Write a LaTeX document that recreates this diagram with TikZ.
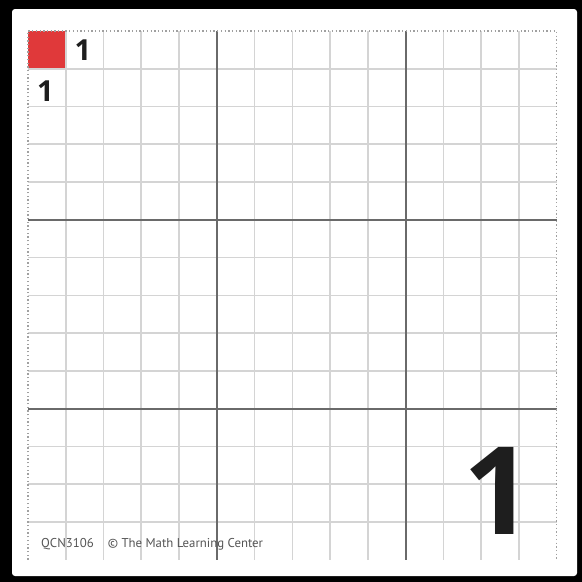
\documentclass[tikz,border=0pt]{standalone}
\usepackage{fontspec}
\setmainfont{Open Sans}
\setsansfont{Open Sans}
\newfontfamily\piefont{PT Sans}
\usetikzlibrary{positioning}
\definecolor{rojo}{HTML}{E0393A}
\definecolor{lineaclara}{HTML}{D4D4D4}
\definecolor{lineaosc}{HTML}{6A6A6A}
\definecolor{puntos}{HTML}{A0A0A0}
\definecolor{textogris}{HTML}{555555}
\definecolor{tinta}{HTML}{1E1E1E}
\def\celda{37.76}
\tikzset{
  every picture/.style={font=\sffamily},
  fina/.style={draw=lineaclara, line width=1.6pt},
  gruesa/.style={draw=lineaosc, line width=1.8pt},
  borde/.style={draw=puntos, line width=1.3pt, dash pattern=on 1.3pt off 2.4pt},
  etiq/.style={inner sep=0pt, text=tinta, font=\sffamily\bfseries\fontsize{29}{29}\selectfont},
  grande/.style={inner sep=0pt, text=tinta, font=\sffamily\bfseries\fontsize{122}{122}\selectfont},
  pie/.style={inner sep=0pt, text=textogris, font=\piefont\fontsize{12.8}{12.8}\selectfont},
}
\begin{document}
\begin{tikzpicture}[x=1pt, y=-1pt]
  % marco
  \fill[black] (0,0) rectangle (582,582);
  \fill[white, rounded corners=3pt] (12,9) rectangle (577,576);
  % cuadricula
  \begin{scope}[shift={(28,31)}]
    \fill[rojo] (0,0) rectangle (\celda,\celda);
    \foreach \i in {1,...,13} {
      \draw[fina] (\i*\celda,0) -- (\i*\celda,14*\celda);
      \draw[fina] (0,\i*\celda) -- (14*\celda,\i*\celda);
    }
    \foreach \i in {5,10} {
      \draw[gruesa] (\i*\celda,0) -- (\i*\celda,14*\celda);
      \draw[gruesa] (0,\i*\celda) -- (14*\celda,\i*\celda);
    }
    \draw[borde] (0,14*\celda) -- (0,0) -- (14*\celda,0) -- (14*\celda,14*\celda);
  \end{scope}
  % etiquetas
  \node[etiq] (unoarr) at (83,50) {1};
  \node[etiq] (unoizq) at (45.5,91) {1};
  \node[grande] (unogr) at (498,490.5) {1};
  \node[pie, anchor=base west] (pie) at (41,547) {QCN3106\hspace{1.1em}© The Math Learning Center};
\end{tikzpicture}
\end{document}
